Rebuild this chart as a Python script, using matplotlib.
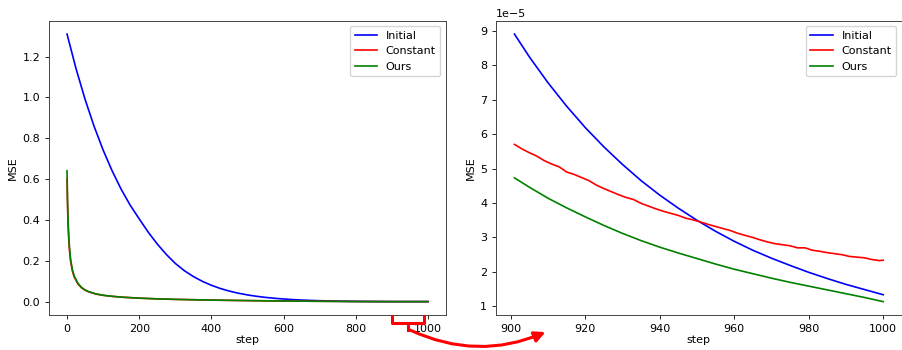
import matplotlib
matplotlib.use('Agg')
import matplotlib.pyplot as plt
from matplotlib.lines import Line2D
from matplotlib.patches import FancyArrowPatch
import numpy as np

# MSE per step
init_steps = [0, 25, 50, 75, 100, 125, 150, 175, 200, 225, 250, 275, 300, 325, 350,
              375, 400, 425, 450, 475, 500, 525, 550, 575, 600, 625, 650, 675, 700,
              725, 750, 775, 800, 825, 850, 875,
              901, 905, 910, 915, 920, 925, 930, 935, 940, 945, 950, 955, 960, 965,
              970, 975, 980, 985, 990, 995, 1000]
init_mse = [1.31, 1.14, 0.99, 0.858, 0.742, 0.640, 0.550, 0.472, 0.405, 0.340, 0.282,
            0.231, 0.187, 0.1515, 0.1227, 0.0992, 0.080, 0.0642, 0.0514, 0.0411,
            0.0328, 0.0261, 0.0207, 0.0163, 0.0128, 0.0100, 0.0077, 0.0059, 0.0045,
            0.0034, 0.0025, 0.0018, 0.0013, 0.0009, 0.0006, 0.00035,
            8.90e-5, 8.24e-5, 7.49e-5, 6.81e-5, 6.19e-5, 5.63e-5, 5.12e-5, 4.65e-5,
            4.23e-5, 3.85e-5, 3.50e-5, 3.18e-5, 2.89e-5, 2.63e-5, 2.40e-5, 2.19e-5,
            1.99e-5, 1.81e-5, 1.64e-5, 1.49e-5, 1.34e-5]

const_steps = [0, 1, 2, 3, 5, 7, 10, 15, 20, 30, 40, 50, 60, 80, 100, 125, 150, 200,
               250, 300, 400, 500, 600, 700, 800, 850, 875,
               901, 903, 905, 907, 909, 911, 913, 915, 917, 919, 921, 923, 925, 927,
               929, 931, 933, 935, 937, 939, 941, 943, 945, 947, 949, 951, 953, 955,
               957, 959, 961, 963, 965, 967, 969, 971, 973, 975, 977, 979, 981, 983,
               985, 987, 989, 991, 993, 995, 997, 999, 1000]
const_mse = [0.60, 0.50, 0.43, 0.37, 0.295, 0.245, 0.195, 0.148, 0.12, 0.087, 0.068,
             0.056, 0.048, 0.037, 0.031, 0.026, 0.022, 0.017, 0.0135, 0.011, 0.0075,
             0.005, 0.003, 0.0017, 0.0006, 0.0002, 0.0001,
             5.70e-5, 5.57e-5, 5.46e-5, 5.36e-5, 5.23e-5, 5.13e-5, 5.05e-5, 4.90e-5,
             4.83e-5, 4.74e-5, 4.65e-5, 4.52e-5, 4.42e-5, 4.33e-5, 4.24e-5, 4.16e-5,
             4.10e-5, 3.99e-5, 3.91e-5, 3.83e-5, 3.76e-5, 3.70e-5, 3.64e-5, 3.56e-5,
             3.51e-5, 3.45e-5, 3.38e-5, 3.32e-5, 3.26e-5, 3.20e-5, 3.12e-5, 3.06e-5,
             3.00e-5, 2.93e-5, 2.87e-5, 2.82e-5, 2.79e-5, 2.76e-5, 2.70e-5, 2.70e-5,
             2.63e-5, 2.60e-5, 2.56e-5, 2.53e-5, 2.50e-5, 2.45e-5, 2.43e-5, 2.41e-5,
             2.36e-5, 2.33e-5, 2.34e-5]

ours_steps = [0, 1, 2, 3, 5, 7, 10, 15, 20, 30, 40, 50, 60, 80, 100, 125, 150, 200,
              250, 300, 400, 500, 600, 700, 800, 850, 875,
              901, 905, 910, 915, 920, 925, 930, 935, 940, 945, 950, 955, 960, 965,
              970, 975, 980, 985, 990, 995, 1000]
ours_mse = [0.641, 0.53, 0.45, 0.39, 0.31, 0.26, 0.205, 0.155, 0.125, 0.09, 0.07,
            0.057, 0.049, 0.038, 0.031, 0.026, 0.022, 0.017, 0.0135, 0.011, 0.0075,
            0.005, 0.003, 0.0017, 0.00035, 0.00012, 0.00007,
            4.73e-5, 4.46e-5, 4.14e-5, 3.86e-5, 3.60e-5, 3.35e-5, 3.12e-5, 2.91e-5,
            2.72e-5, 2.55e-5, 2.39e-5, 2.23e-5, 2.08e-5, 1.95e-5, 1.82e-5, 1.70e-5,
            1.59e-5, 1.48e-5, 1.37e-5, 1.26e-5, 1.14e-5]

zoom_from = 901
labels = ['Initial', 'Constant', 'Ours']
colors = ['blue', 'red', 'green']

plt.rcParams['font.size'] = 8
plt.rcParams['xtick.major.size'] = 2.8
plt.rcParams['ytick.major.size'] = 2.8
plt.rcParams['xtick.major.width'] = 0.6
plt.rcParams['ytick.major.width'] = 0.6
plt.rcParams['axes.linewidth'] = 0.7
plt.rcParams['axes.edgecolor'] = '#444444'

W, H = 902, 350
fig = plt.figure(figsize=(W/100, H/100), dpi=100)
ax1 = fig.add_axes([49/W, 1-315/H, (446-49)/W, (315-20.7)/H])
ax2 = fig.add_axes([496/W, 1-315/H, (901.6-496)/W, (315-20.7)/H])

series = [(init_steps, init_mse), (const_steps, const_mse), (ours_steps, ours_mse)]
for (s, m), lab, c in zip(series, labels, colors):
    s = np.array(s); m = np.array(m)
    ax1.plot(s, m, color=c, lw=1.2, label=lab)
    k = s >= zoom_from
    ax2.plot(s[k], m[k], color=c, lw=1.2, label=lab)

for ax in (ax1, ax2):
    ax.set_xlabel('step', labelpad=1)
    ax.set_ylabel('MSE', labelpad=3)
    ax.legend(loc='upper right')
ax2.set_xticks([900, 920, 940, 960, 980, 1000])

# red bracket under the last 100 steps + curved arrow to the zoomed panel
def fpt(x, y):
    return x/W, 1 - y/H

red_kw = dict(color='red', lw=2.2, transform=fig.transFigure, clip_on=False)
bx = [391.7, 391.7, 424.3, 424.3]
by = [316, 322.7, 322.7, 316]
fig.add_artist(Line2D([x/W for x in bx], [1 - y/H for y in by], **red_kw))
fig.add_artist(Line2D([407.8/W, 407.8/W], [1-322.7/H, 1-330/H], **red_kw))
arr = FancyArrowPatch(fpt(407.8, 329), fpt(548, 331), transform=fig.transFigure,
                      connectionstyle='arc3,rad=0.23', arrowstyle='-|>',
                      mutation_scale=16, lw=2.2, color='red')
fig.add_artist(arr)

fig.savefig('out.png', dpi=100)
